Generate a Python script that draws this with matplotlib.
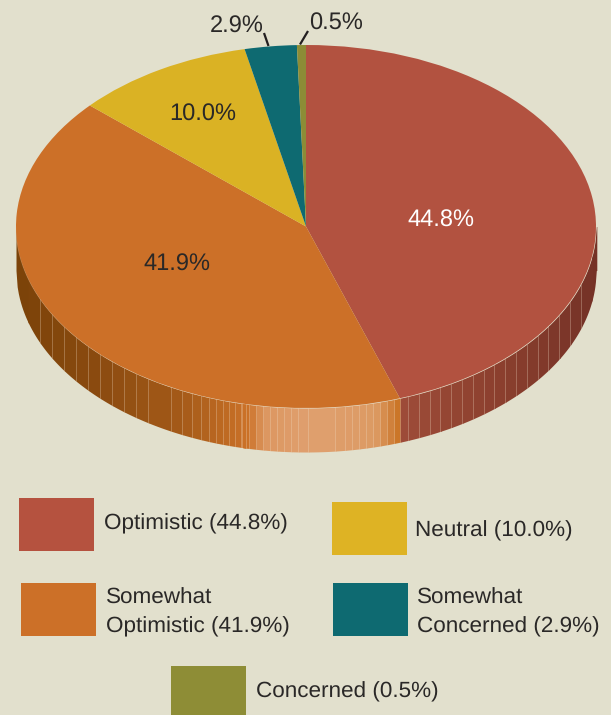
import matplotlib as mpl
import matplotlib.pyplot as plt
import numpy as np
from matplotlib.patches import Rectangle

mpl.rcParams["font.family"] = ["Liberation Sans", "DejaVu Sans"]
mpl.rcParams["text.hinting"] = "no_hinting"

# values as printed on the chart, clockwise from 12 o'clock
names = ["Optimistic", "Somewhat Optimistic", "Neutral", "Somewhat Concerned", "Concerned"]
shares = [44.8, 41.9, 10.0, 2.9, 0.5]
colors = ["#b25240", "#cc7028", "#dab224", "#0e6a71", "#8c8c36"]
legend_colors = ["#b5523f", "#cc7028", "#deb324", "#0e6a71", "#8e8d36"]

BG = "#e2e0cd"
INK = "#2a2827"
W, H = 611, 715
CX, CY, RX, RY = 306.0, 226.5, 290.0, 181.5
DEPTH = 44.0 / RY

fig = plt.figure(figsize=(W / 100, H / 100), dpi=100, facecolor=BG)

# pie axes: one data unit is RX px wide and RY px tall, so the circle reads as a tilted disc
ax = fig.add_axes([0, 0, 1, 1])
ax.pie(shares, colors=colors, startangle=90, counterclock=False, radius=1.0,
       wedgeprops={"linewidth": 0}, frame=True)
ax.set_aspect("auto")
ax.set_xlim(-CX / RX, (W - CX) / RX)
ax.set_ylim((CY - H) / RY, CY / RY)
ax.axis("off")
for wedge in ax.patches:
    wedge.set_zorder(5)


def top_edge(x):
    return -np.sqrt(np.clip(1.0 - x**2, 0.0, 1.0))


# side wall shading, px position -> colour
orange_x = [16, 100, 180, 248, 264, 310, 375, 392, 400]
orange_c = ["#7b4208", "#8b4b10", "#a45a18", "#cb7228", "#dc9660", "#e0a06f", "#dc9a63", "#cf7f38", "#c9701f"]
red_x = [400, 500, 596]
red_c = ["#9e4c38", "#8b3f2e", "#743226"]


def shade(px, xs, cs):
    rgb = np.array([mpl.colors.to_rgb(c) for c in cs])
    return tuple(np.interp(px, xs, rgb[:, i]) for i in range(3))


slat_edges = np.concatenate([
    np.arange(16, 160, 12.0),
    160 + np.cumsum([11, 11, 10, 9, 8, 7, 7, 6, 6, 5.5, 5.5]),
    np.arange(242, 300, 7.0),
    [308, 335],
    np.arange(345, 400, 7.0),
    [400],
    np.arange(408, 596, 10.8),
    [596],
])

for x0, x1 in zip(slat_edges[:-1], slat_edges[1:]):
    mid = 0.5 * (x0 + x1)
    if x0 >= 400:
        col = shade(mid, red_x, red_c)
    else:
        col = shade(mid, orange_x, orange_c)
    xx = (np.linspace(x0, x1 + 0.8, 12) - CX) / RX
    ax.fill_between(xx, top_edge(xx), top_edge(xx) - DEPTH, color=col, linewidth=0, zorder=2)

for px in slat_edges[2:-2]:
    x = (px - CX) / RX
    ax.plot([x, x], [top_edge(x), top_edge(x) - DEPTH], color="#f3dfc8", alpha=0.3, lw=0.7, zorder=3)

rim = np.linspace(-1, 1, 500)
ax.plot(rim, top_edge(rim), color="#f0d8bd", alpha=0.4, lw=0.6, zorder=4)

# overlay in image pixels for the labels and the legend
ov = fig.add_axes([0, 0, 1, 1], facecolor="none")
ov.set_xlim(0, W)
ov.set_ylim(H, 0)
ov.axis("off")

pct = [f"{s:.1f}%" for s in shares]
FS = 16.2
FS_PIE = 17.0
ov.text(441, 227, pct[0], color="white", fontsize=FS_PIE, ha="center", va="baseline")
ov.text(177, 271, pct[1], color=INK, fontsize=FS_PIE, ha="center", va="baseline")
ov.text(203, 121, pct[2], color=INK, fontsize=FS_PIE, ha="center", va="baseline")
ov.text(237, 33, pct[3], color=INK, fontsize=FS_PIE, ha="center", va="baseline")
ov.text(336, 30, pct[4], color=INK, fontsize=FS_PIE, ha="center", va="baseline")
ov.plot([264, 268.5], [33, 46], color="#231f20", lw=1.6, solid_capstyle="butt")
ov.plot([308, 300], [31, 44.5], color="#231f20", lw=1.6, solid_capstyle="butt")

# swatch left, swatch top, text left, first baseline
legend_slots = [
    (19, 498, 104, 529),
    (21, 583, 106, 604),
    (332, 502, 415, 536),
    (333, 583, 417, 604),
    (171, 666, 256, 697),
]
for name, share, col, (sx, sy, tx, ty) in zip(names, shares, legend_colors, legend_slots):
    ov.add_patch(Rectangle((sx, sy), 75, 53, facecolor=col, edgecolor="none"))
    words = name.split(" ")
    tail = f"{words[-1]} ({share:.1f}%)"
    if len(words) > 1:
        ov.text(tx, ty, words[0], color=INK, fontsize=FS, ha="left", va="baseline")
        ov.text(tx, ty + 28, tail, color=INK, fontsize=FS, ha="left", va="baseline")
    else:
        ov.text(tx, ty, tail, color=INK, fontsize=FS, ha="left", va="baseline")

fig.savefig("out.png", dpi=100, facecolor=BG)
